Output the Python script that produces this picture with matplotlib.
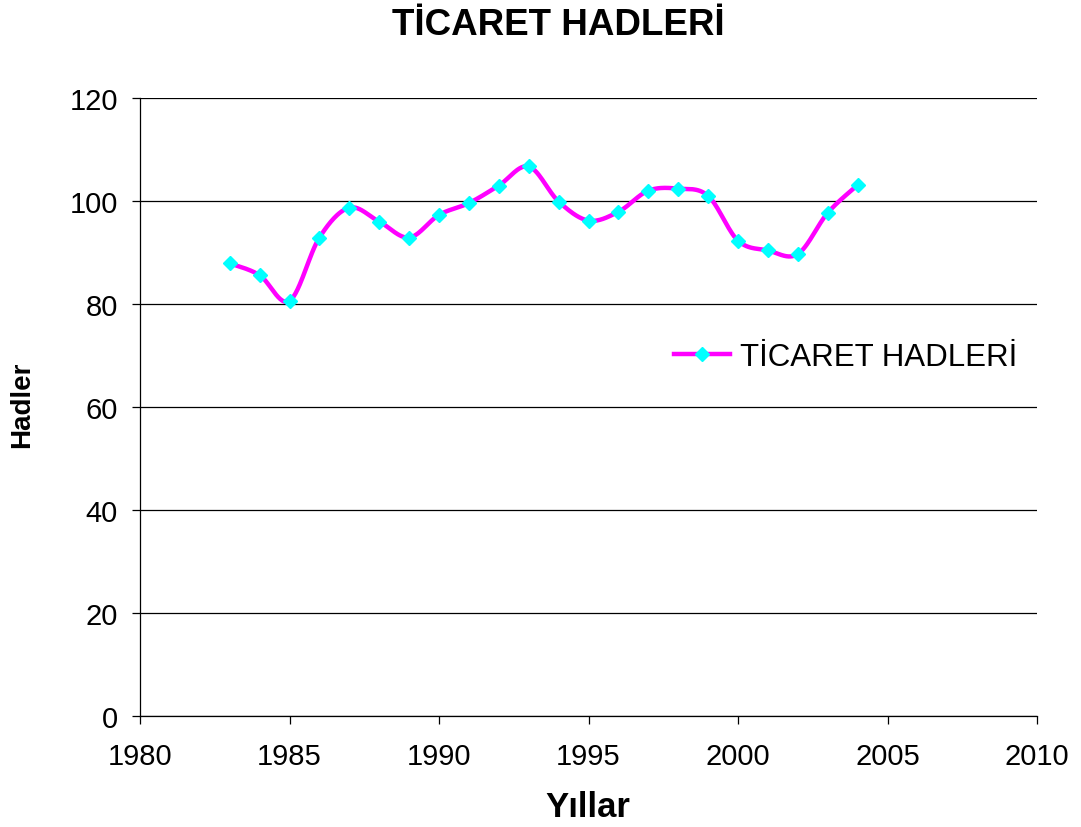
import numpy as np
import matplotlib
matplotlib.use("Agg")
import matplotlib.pyplot as plt

plt.rcParams["font.family"] = ["Liberation Sans", "DejaVu Sans"]

# data
years = [1983, 1984, 1985, 1986, 1987, 1988, 1989, 1990, 1991, 1992, 1993,
         1994, 1995, 1996, 1997, 1998, 1999, 2000, 2001, 2002, 2003, 2004]
values = [87.9, 85.6, 80.6, 92.9, 98.7, 96.0, 92.9, 97.3, 99.6, 103.0, 106.7,
          99.9, 96.2, 97.9, 102.0, 102.4, 101.0, 92.3, 90.4, 89.7, 97.7, 103.1]

series_name = "TİCARET HADLERİ"
title = "TİCARET HADLERİ"
x_label = "Yıllar"
y_label = "Hadler"


def smooth_curve(x, y, steps=30):
    # Excel-style smoothed line: cubic Bezier segments through the points
    p = np.column_stack([x, y]).astype(float)
    ext = np.vstack([p[0], p, p[-1]])
    t = np.linspace(0, 1, steps)[:, None]
    out = []
    for i in range(len(p) - 1):
        p0 = ext[i + 1]
        p3 = ext[i + 2]
        c1 = p0 + (ext[i + 2] - ext[i]) / 6.0
        c2 = p3 - (ext[i + 3] - ext[i + 1]) / 6.0
        seg = ((1 - t) ** 3) * p0 + 3 * ((1 - t) ** 2) * t * c1 \
            + 3 * (1 - t) * t ** 2 * c2 + t ** 3 * p3
        out.append(seg if i == 0 else seg[1:])
    seg = np.vstack(out)
    return seg[:, 0], seg[:, 1]


fig = plt.figure(figsize=(10.81, 8.28), dpi=100)
ax = fig.add_axes([140 / 1081, 1 - 717 / 828, 897 / 1081, 618 / 828])

sx, sy = smooth_curve(years, values)
ax.plot(sx, sy, color="#FF00FF", lw=3.2, solid_capstyle="round", zorder=3)
ax.plot(years, values, ls="none", marker="D", ms=7, color="#00FFFF",
        mec="#00FFFF", zorder=4)
# legend proxy: line with marker
proxy, = ax.plot([], [], color="#FF00FF", lw=3.2, marker="D", ms=7,
                 mfc="#00FFFF", mec="#00FFFF", label=series_name)

ax.set_xlim(1980, 2010)
ax.set_ylim(0, 120)
ax.set_xticks(np.arange(1980, 2011, 5))
ax.set_yticks(np.arange(0, 121, 20))
ax.yaxis.grid(True, color="black", lw=0.9)
ax.set_axisbelow(True)

for side in ["top", "right"]:
    ax.spines[side].set_visible(False)
for side in ["left", "bottom"]:
    ax.spines[side].set_color("black")
    ax.spines[side].set_linewidth(0.9)

ax.tick_params(axis="both", direction="out", length=6, width=0.9,
               labelsize=21, color="black")
ax.tick_params(axis="x", pad=13)
ax.tick_params(axis="y", pad=10)

fig.text(558 / 1081, 1 - 35 / 828, title, ha="center", va="baseline",
         fontsize=26.5, fontweight="bold")
fig.text(588 / 1081, 1 - 817 / 828, x_label, ha="center", va="baseline",
         fontsize=25, fontweight="bold")
fig.text(22 / 1081, 1 - 405 / 828, y_label, ha="center", va="center",
         rotation=90, fontsize=20, fontweight="bold")

leg = fig.legend(handles=[proxy], loc="center left",
                 bbox_to_anchor=(674 / 1081, 1 - 358 / 828),
                 frameon=False, fontsize=22.5, handlelength=1.8,
                 handletextpad=0.3, borderpad=0, borderaxespad=0)

fig.savefig("out.png", dpi=100)
